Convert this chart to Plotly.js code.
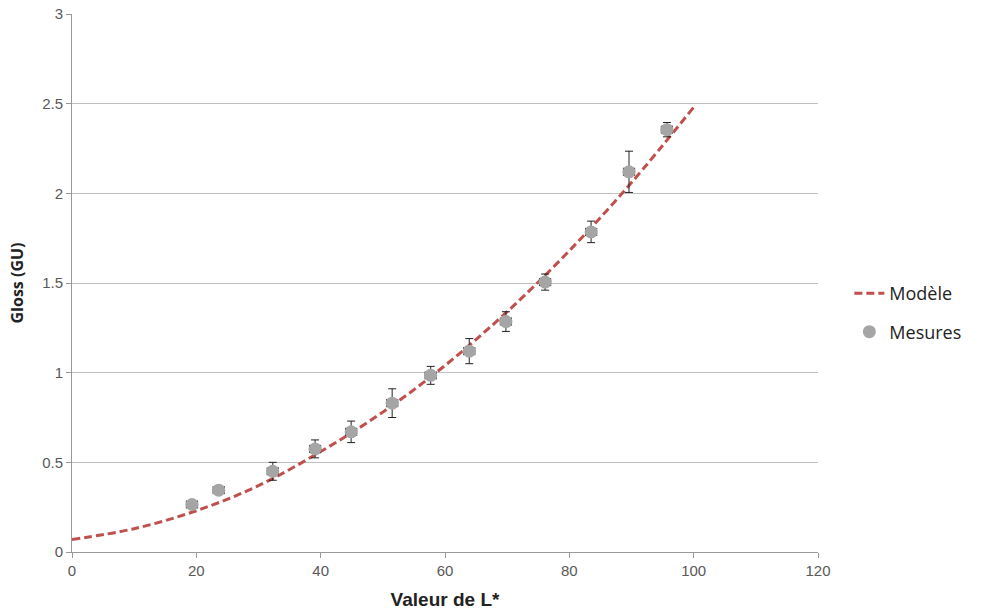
<!DOCTYPE html>
<html>
<head>
<meta charset="utf-8">
<script src="https://cdn.plot.ly/plotly-3.0.1.min.js"></script>
<style>html,body{margin:0;padding:0;background:#fff;}#chart{width:982px;height:615px;}</style>
</head>
<body>
<div id="chart"></div>
<script>
// Model curve
const modelX = [0, 10, 20, 30, 40, 50, 60, 70, 80, 90, 100];
const modelY = [0.07, 0.13, 0.23, 0.37, 0.56, 0.78, 1.04, 1.34, 1.68, 2.06, 2.48];

// Measurements
const mesX = [19.3, 23.6, 32.3, 39.1, 44.9, 51.5, 57.7, 63.9, 69.8, 76.1, 83.5, 89.6, 95.7];
const mesY = [0.265, 0.345, 0.45, 0.575, 0.67, 0.83, 0.985, 1.12, 1.285, 1.505, 1.785, 2.12, 2.355];
const mesErrY = [0.02, 0.02, 0.05, 0.05, 0.06, 0.08, 0.05, 0.07, 0.055, 0.045, 0.06, 0.115, 0.04];
const mesErrX = [0.9, 0.9, 0.9, 0.9, 0.9, 0.9, 0.9, 0.9, 0.9, 0.9, 0.9, 0.9, 0.9];

const xTicks = [0, 20, 40, 60, 80, 100, 120];
const yTicks = [0, 0.5, 1, 1.5, 2, 2.5, 3];

const traces = [
  {
    x: modelX, y: modelY, name: 'Modèle', type: 'scatter', mode: 'lines', legendgroup: 'a',
    line: {color: '#c0504d', width: 3, dash: '8px,4px', shape: 'spline'}
  },
  {
    x: mesX, y: mesY, name: 'Mesures', type: 'scatter', mode: 'markers', legendgroup: 'b',
    marker: {color: '#a5a5a5', size: 13},
    error_y: {type: 'data', array: mesErrY, visible: true, color: '#222', thickness: 1, width: 4},
    error_x: {type: 'data', array: mesErrX, visible: true, color: '#222', thickness: 1, width: 4}
  }
];

const tickFont = {family: 'Liberation Sans Narrow, Liberation Sans, sans-serif', size: 15, color: '#595959'};

const layout = {
  width: 982, height: 615,
  margin: {l: 72, r: 164, t: 14, b: 63},
  paper_bgcolor: '#fff', plot_bgcolor: '#fff',
  font: {family: 'Liberation Sans Narrow, Liberation Sans, sans-serif', color: '#595959', size: 14},
  showlegend: true,
  legend: {x: 1.042, xanchor: 'left', y: 0.445, yanchor: 'middle', traceorder: 'grouped',
           font: {family: 'Open Sans, sans-serif', size: 18, color: '#222'},
           itemwidth: 30, tracegroupgap: 12},
  xaxis: {
    range: [0, 120], tickvals: xTicks, ticktext: xTicks.map(String), tickfont: tickFont,
    showgrid: false, zeroline: false, showline: true, linecolor: '#999', linewidth: 1,
    ticks: 'outside', ticklen: 5, tickcolor: '#999',
    title: {text: 'Valeur de L*', font: {family: 'Liberation Sans Narrow, Liberation Sans, sans-serif', size: 19, color: '#222', weight: 'bold'}, standoff: 14}
  },
  yaxis: {
    range: [0, 3], tickvals: yTicks, ticktext: yTicks.map(String), tickfont: tickFont,
    showgrid: true, gridcolor: '#c0c0c0', zeroline: false, showline: true, linecolor: '#999', linewidth: 1,
    ticks: 'outside', ticklen: 5, tickcolor: '#999',
    title: {text: 'Gloss (GU)', font: {family: 'Open Sans, sans-serif', size: 16, color: '#222', weight: 'bold'}, standoff: 14}
  }
};

Plotly.newPlot('chart', traces, layout, {displayModeBar: false, staticPlot: true});
</script>
</body>
</html>
